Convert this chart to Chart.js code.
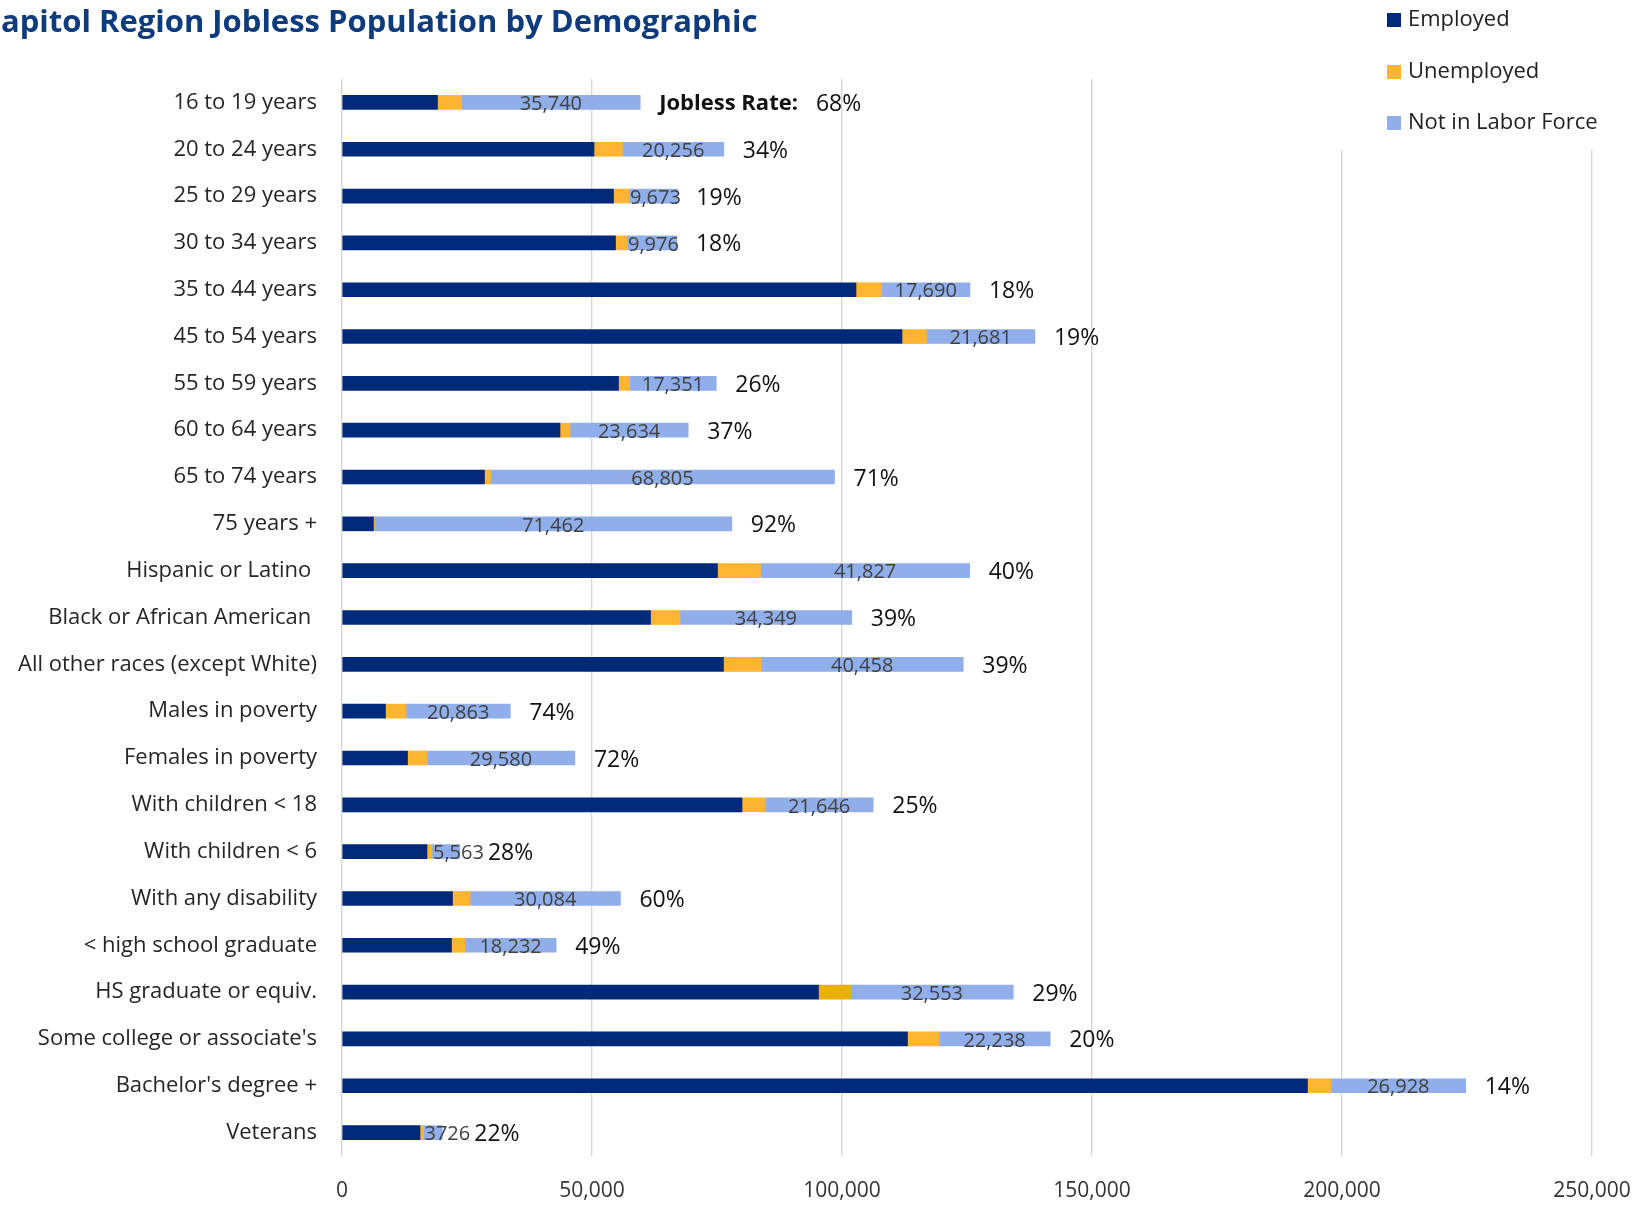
<!DOCTYPE html>
<html>
<head>
<meta charset="utf-8">
<script src="https://cdn.jsdelivr.net/npm/chart.js@4.4.1/dist/chart.umd.min.js"></script>
<style>
html,body{margin:0;padding:0;background:#fff;overflow:hidden}
canvas{display:block}
</style>
</head>
<body>
<canvas id="c" width="1641" height="1205"></canvas>
<script>
const chartTitle = 'Capitol Region Jobless Population by Demographic';
const categories = [
  '16 to 19 years', '20 to 24 years', '25 to 29 years', '30 to 34 years',
  '35 to 44 years', '45 to 54 years', '55 to 59 years', '60 to 64 years',
  '65 to 74 years', '75 years +', 'Hispanic or Latino ', 'Black or African American ',
  'All other races (except White)', 'Males in poverty', 'Females in poverty',
  'With children < 18', 'With children < 6', 'With any disability',
  '< high school graduate', 'HS graduate or equiv.', "Some college or associate's",
  "Bachelor's degree +", 'Veterans'
];
const seriesNames = ['Employed', 'Unemployed', 'Not in Labor Force'];
const employed = [19100, 50400, 54300, 54700, 102800, 112000, 55300, 43600, 28500, 6300,
  75100, 61700, 76300, 8700, 13100, 80000, 17000, 22100, 21900, 95300, 113100, 193100, 15600];
const unemployed = [4800, 5700, 3100, 2300, 5100, 4900, 2200, 2000, 1200, 200,
  8600, 5900, 7500, 4100, 3900, 4600, 1000, 3500, 2700, 6400, 6300, 4700, 700];
const notInLaborForce = [35740, 20256, 9673, 9976, 17690, 21681, 17351, 23634, 68805, 71462,
  41827, 34349, 40458, 20863, 29580, 21646, 5563, 30084, 18232, 32553, 22238, 26928, 3726];
const joblessRate = [68, 34, 19, 18, 18, 19, 26, 37, 71, 92, 40, 39, 39, 74, 72, 25, 28, 60, 49, 29, 20, 14, 22];
const xTicks = [0, 50000, 100000, 150000, 200000, 250000];

const FONT = '"Open Sans", "Noto Sans", sans-serif';
const colEmployed = '#00297A';
const colUnemployed = '#FFB531';
const colUnemployedAlt = '#EBB100';
const colNLF = '#8FAEEA';

function fmtNlf(v) { return v >= 5000 ? v.toLocaleString('en-US') : String(v); }

const overlay = {
  id: 'overlay',
  afterDatasetsDraw(chart) {
    const ctx = chart.ctx;
    const meta = chart.getDatasetMeta(2);
    ctx.save();
    ctx.textAlign = 'left';
    ctx.textBaseline = 'middle';
    meta.data.forEach((bar, i) => {
      const left = Math.min(bar.base, bar.x), right = Math.max(bar.base, bar.x);
      const txt = fmtNlf(notInLaborForce[i]);
      ctx.font = '20px ' + FONT;
      const w = ctx.measureText(txt).width;
      const lx = (w + 4 <= right - left) ? (left + right) / 2 - w / 2 : left + 1;
      ctx.fillStyle = '#404040';
      ctx.fillText(txt, lx, bar.y + 2);
      let rx = Math.max(right + 19, lx + w + 4);
      if (i === 0) {
        ctx.font = 'bold 22px ' + FONT;
        ctx.fillStyle = '#111';
        const lab = 'Jobless Rate:';
        ctx.fillText(lab, rx, bar.y + 1);
        rx += ctx.measureText(lab).width + 18;
      }
      ctx.font = '23px ' + FONT;
      ctx.fillStyle = '#111';
      ctx.fillText(joblessRate[i] + '%', rx, bar.y + 2);
    });
    ctx.restore();
  },
  afterDraw(chart) {
    const ctx = chart.ctx;
    ctx.save();
    ctx.font = 'bold 31px ' + FONT;
    ctx.fillStyle = '#0E3B7B';
    ctx.textBaseline = 'alphabetic';
    ctx.textAlign = 'left';
    const cw = ctx.measureText('C').width;
    ctx.fillText(chartTitle, -cw + 1, 32);
    ctx.fillStyle = '#fff';
    ctx.fillRect(1320, 0, 321, 150);
    const cols = [colEmployed, colUnemployed, colNLF];
    const ys = [20, 72, 123];
    ctx.font = '22px ' + FONT;
    ctx.textBaseline = 'middle';
    seriesNames.forEach((n, k) => {
      ctx.fillStyle = cols[k];
      ctx.fillRect(1387, ys[k] - 7, 14, 14);
      ctx.fillStyle = '#222';
      ctx.fillText(n, 1408, ys[k]);
    });
    ctx.restore();
  }
};

function build() {
  new Chart(document.getElementById('c'), {
    type: 'bar',
    data: {
      labels: categories,
      datasets: [
        { label: seriesNames[0], data: employed, backgroundColor: colEmployed },
        { label: seriesNames[1], data: unemployed,
          backgroundColor: categories.map((c, i) => i === 19 ? colUnemployedAlt : colUnemployed) },
        { label: seriesNames[2], data: notInLaborForce, backgroundColor: colNLF }
      ]
    },
    options: {
      indexAxis: 'y',
      responsive: false,
      devicePixelRatio: 1,
      animation: false,
      datasets: { bar: { barThickness: 14, borderWidth: 0 } },
      layout: { padding: { left: 0, right: 49, top: 79, bottom: 0 } },
      plugins: { legend: { display: false }, tooltip: { enabled: false }, title: { display: false } },
      scales: {
        x: {
          stacked: true,
          min: 0, max: 250000,
          afterBuildTicks(scale) { scale.ticks = xTicks.map(v => ({ value: v })); },
          afterFit(scale) {
            scale.height = 49;
            scale.paddingLeft = 0; scale.paddingRight = 0;
          },
          grid: { color: '#D6D6D6', lineWidth: 1.4, drawTicks: false },
          border: { display: false },
          ticks: {
            padding: 22,
            color: '#333',
            font: { family: FONT, size: 21 },
            callback: v => Number(v).toLocaleString('en-US'),
            maxRotation: 0
          }
        },
        y: {
          stacked: true,
          afterFit(scale) {
            scale.width = 342;
            scale.paddingTop = 0; scale.paddingBottom = 0;
          },
          grid: { display: false, drawTicks: false },
          border: { display: false },
          ticks: {
            autoSkip: false,
            padding: 25,
            color: '#262626',
            font: { family: FONT, size: 22 }
          }
        }
      }
    },
    plugins: [overlay]
  });
}

const fl = document.fonts ? Promise.all([
  document.fonts.load('22px "Open Sans"'),
  document.fonts.load('bold 22px "Open Sans"')
]).catch(() => {}) : Promise.resolve();
fl.then(build, build);
</script>
</body>
</html>
